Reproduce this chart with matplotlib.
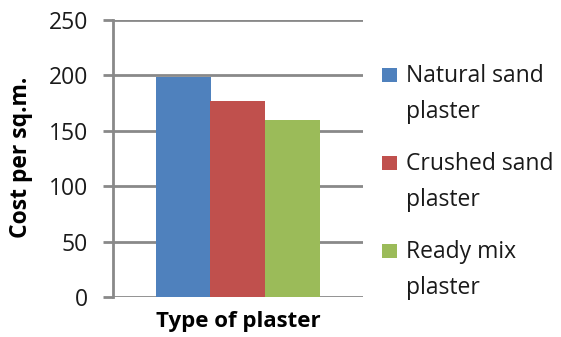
import matplotlib
matplotlib.use("Agg")
import matplotlib.pyplot as plt
from matplotlib.patches import Rectangle

categories = ["Type of plaster"]
series_names = ["Natural sand plaster", "Crushed sand plaster", "Ready mix plaster"]
legend_lines = [["Natural sand", "plaster"], ["Crushed sand", "plaster"], ["Ready mix", "plaster"]]
values = [199, 177, 160]
colors = ["#4F81BD", "#C0504D", "#9BBB59"]
yticks = [0, 50, 100, 150, 200, 250]

plt.rcParams['font.family'] = ['Open Sans', 'DejaVu Sans']

W, H = 561, 337
fig = plt.figure(figsize=(W / 100, H / 100), dpi=100)
ax = fig.add_axes([113 / W, (H - 297) / H, (363 - 113) / W, (297 - 20) / H])

w = 0.22
for i, (v, c) in enumerate(zip(values, colors)):
    ax.bar((i - 1) * w, v, width=w, color=c, zorder=3, label=series_names[i])

ax.set_xlim(-0.5, 0.5)
ax.set_ylim(0, 250)
ax.set_yticks(yticks)
ax.set_yticklabels([str(t) for t in yticks], fontsize=16.5, color="#1a1a1a")
ax.set_xticks([])
grid_c = "#898989"
ax.yaxis.grid(True, color=grid_c, linewidth=2, zorder=0)
ax.tick_params(axis='y', length=7, width=2, color=grid_c, pad=11)
for s in ["top", "right", "bottom"]:
    ax.spines[s].set_visible(False)
ax.spines["left"].set_color(grid_c)
ax.spines["left"].set_linewidth(2)
ax.set_axisbelow(True)

fig.text(21 / W, 1 - 157 / H, "Cost per sq.m.", rotation=90, ha="center", va="center",
         fontsize=16.5, fontweight="bold", color="#000000")
fig.text(238 / W, 1 - 321 / H, categories[0], ha="center", va="center",
         fontsize=16, fontweight="bold", color="#000000")

# legend
for i, (lines, c) in enumerate(zip(legend_lines, colors)):
    base = 82 + 88 * i
    fig.patches.append(Rectangle((382 / W, 1 - (base) / H), 15 / W, 14 / H,
                                 transform=fig.transFigure, facecolor=c, edgecolor="none"))
    fig.text(406 / W, 1 - base / H, lines[0], ha="left", va="baseline", fontsize=16.5, color="#1a1a1a")
    fig.text(406 / W, 1 - (base + 36) / H, lines[1], ha="left", va="baseline", fontsize=16.5, color="#1a1a1a")

fig.savefig("out.png", dpi=100)
